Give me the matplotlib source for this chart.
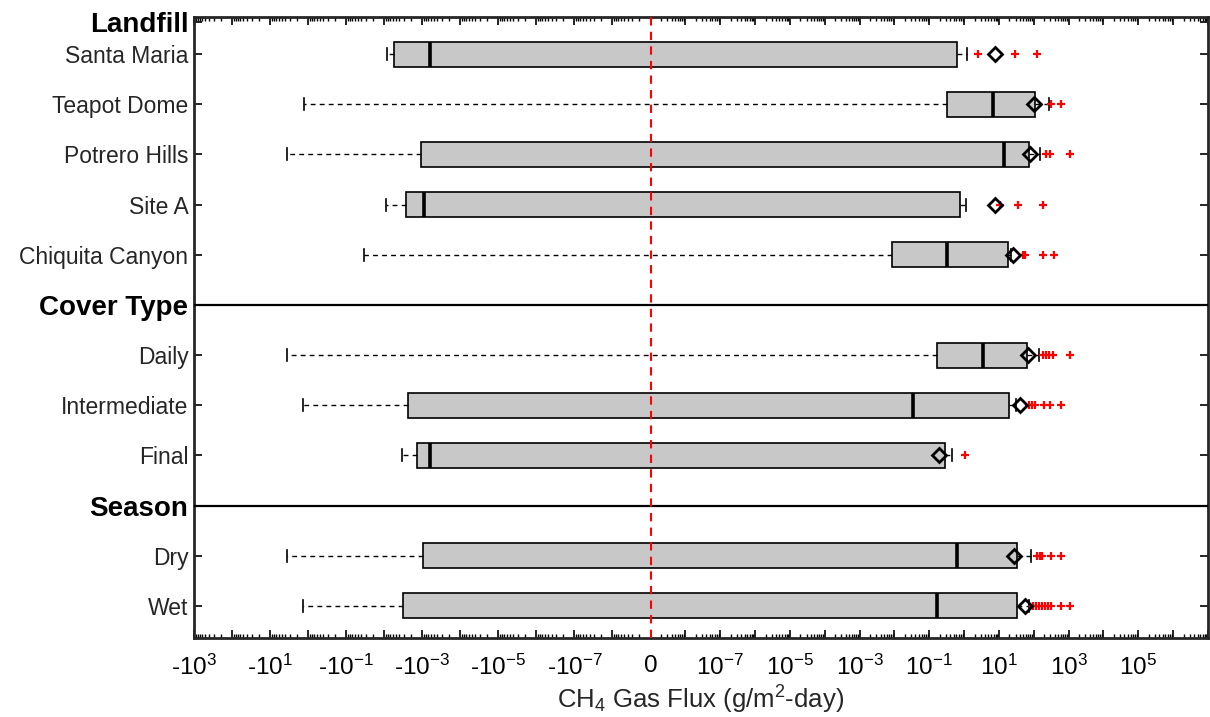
import numpy as np
import matplotlib
matplotlib.use("Agg")
import matplotlib.pyplot as plt

plt.rcParams['font.family'] = ['Liberation Sans', 'DejaVu Sans']
plt.rcParams['mathtext.default'] = 'regular'

# groups (header, members)
headers = ["Landfill", "Cover Type", "Season"]
group_sizes = [5, 3, 2]
names = ["Santa Maria", "Teapot Dome", "Potrero Hills", "Site A", "Chiquita Canyon",
         "Daily", "Intermediate", "Final",
         "Dry", "Wet"]

# CH4 flux stats (g/m2-day)
whis_lo = [-8.3e-3, -1.27, -3.5, -8.9e-3, -0.034, -3.5, -1.35, -3.4e-3, -3.5, -1.35]
q1 = [-5.5e-3, 0.33, -1.07e-3, -2.6e-3, 8.5e-3, 0.17, -2.4e-3, -1.35e-3, -9.3e-4, -3.2e-3]
med = [-6.2e-4, 6.7, 13.8, -8.9e-4, 0.32, 3.5, 0.034, -6.2e-4, 0.62, 0.17]
q3 = [0.62, 108, 73, 0.76, 18, 63, 19.5, 0.28, 33, 33]
whis_hi = [1.2, 275, 151, 1.12, 22, 141, 31, 0.45, 83, 73]
means = [7.7, 102, 78, 7.7, 25, 68, 40, 0.19, 27, 56]
outliers = [[2.5, 29, 123],
            [312, 603],
            [224, 293, 1100],
            [10.7, 35, 183],
            [49, 56, 183, 380],
            [183, 224, 275, 355, 1100],
            [73, 89, 108, 195, 293, 603],
            [1.05],
            [123, 151, 174, 312, 603],
            [95, 115, 141, 174, 209, 257, 312, 603, 1100]]

# signed log axis: each side log10|x| from 1e-9, left side a bit wider per decade
R = 38.0 / 34.8


def fwd(x):
    x = np.asarray(x, float)
    a = np.abs(x)
    d = np.where(a > 1e-9, np.log10(np.maximum(a, 1e-300)) + 9, a / 1e-9)
    return np.where(x < 0, -R * d, d)


def inv(u):
    u = np.asarray(u, float)
    v = np.where(u < 0, -u / R, u)
    a = np.where(v > 1, 10.0 ** (np.minimum(v, 300) - 9), v * 1e-9)
    return np.where(u < 0, -a, a)


# row positions, header rows between groups
positions = []
header_pos = []
p = 0
for gi, n in enumerate(group_sizes):
    if gi > 0:
        header_pos.append(p)
        p += 1
    positions += list(range(p, p + n))
    p += n
header_pos = [-0.64] + header_pos

stats = []
for i in range(len(names)):
    stats.append(dict(whislo=whis_lo[i], q1=q1[i], med=med[i], q3=q3[i],
                      whishi=whis_hi[i], mean=means[i], fliers=outliers[i]))

fig = plt.figure(figsize=(12.1, 7.17), dpi=100)
ax = fig.add_axes([194 / 1210, 1 - 638 / 717, (1208 - 194) / 1210, (638 - 17) / 717])
ax.set_xscale('function', functions=(fwd, inv))

ax.bxp(stats, positions=positions, orientation='horizontal', widths=0.5,
       capwidths=0.24, showmeans=True, patch_artist=True,
       boxprops=dict(facecolor='#c8c8c8', edgecolor='black', linewidth=1.2),
       medianprops=dict(color='black', linewidth=2.6),
       whiskerprops=dict(color='black', linewidth=1.0, linestyle=(0, (3.5, 3))),
       capprops=dict(color='black', linewidth=1.2),
       meanprops=dict(marker='D', markerfacecolor='none', markeredgecolor='black',
                      markeredgewidth=2, markersize=7.5),
       flierprops=dict(marker='+', markeredgecolor='red', markersize=5.5,
                       markeredgewidth=1.6))

for hp in header_pos[1:]:
    ax.axhline(hp, color='black', linewidth=1.6, zorder=3)
ax.axvline(0, color='red', linestyle=(0, (4, 3)), linewidth=1.5, zorder=5)

ax.set_xlim(-1e3, 1e7)
ax.set_ylim(11.64, -0.74)

# x ticks, labelled every second decade up to 10^5
neg_k = list(range(3, -9, -1))
pos_k = list(range(-8, 8))
major = [-10.0 ** k for k in neg_k] + [0.0] + [10.0 ** k for k in pos_k]
labels = []
for k in neg_k:
    labels.append('-$10^{%d}$' % k if k % 2 else '')
labels.append('0')
for k in pos_k:
    labels.append('$10^{%d}$' % k if (k % 2 and k < 7) else '')
ax.set_xticks(major, labels)
minor = []
for k in range(-9, 7):
    for m in range(2, 10):
        minor.append(m * 10.0 ** k)
        if k < 3:
            minor.append(-m * 10.0 ** k)
ax.set_xticks(minor, minor=True)

# y ticks with bold group headers
yt = positions + header_pos
yl = names + headers
ax.set_yticks(yt, yl)
for lab in ax.get_yticklabels():
    if lab.get_text() in headers:
        lab.set_fontweight('bold')
        lab.set_fontsize(20)
        lab.set_color('black')
    else:
        lab.set_fontsize(16.5)
        lab.set_color('#262626')

ax.tick_params(axis='x', which='major', direction='in', length=6, width=1.2,
               top=True, labelsize=17.5, labelcolor='black', pad=12)
ax.tick_params(axis='x', which='minor', direction='in', length=3, width=1.0, top=True)
ax.tick_params(axis='y', which='major', direction='in', length=6, width=1.2,
               right=True, pad=4)
for s in ax.spines.values():
    s.set_linewidth(2)
    s.set_color('#262626')

ax.set_xlabel('CH$_4$ Gas Flux (g/m$^2$-day)', fontsize=18.5, color='#262626', labelpad=3)

fig.savefig('out.png', dpi=100)
